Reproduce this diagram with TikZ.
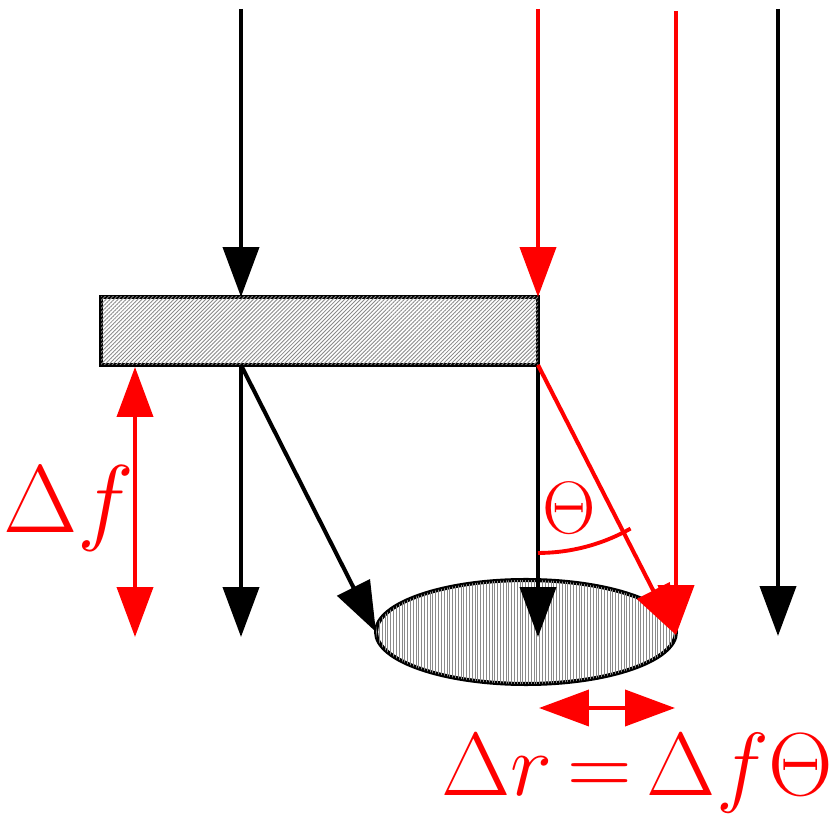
\documentclass[tikz,border=0pt]{standalone}
\usepackage{graphicx}
\usetikzlibrary{arrows.meta,patterns.meta}
\definecolor{beamred}{HTML}{FF0000}
\definecolor{hatchgrey}{HTML}{8A8A8A}
\newcommand{\biglabel}[2][2.05]{\scalebox{#1}{\Huge$#2$}}
\tikzset{
  lightray/.style={-{Triangle[length=1cm,width=0.72cm]}, line width=2.3pt, draw=#1},
  lightray/.default=black,
  span/.style={{Triangle[length=1cm,width=0.72cm]}-{Triangle[length=1cm,width=0.72cm]},
               line width=2.2pt, draw=beamred},
  lens/.style={draw=black, line width=2.3pt, fill=white,
               postaction={pattern={Lines[angle=45,distance=1.6pt,line width=0.5pt]}, pattern color=hatchgrey}},
  spotfill/.style={draw=black, line width=2.3pt, fill=white,
               postaction={pattern={Lines[angle=90,distance=1.6pt,line width=0.5pt]}, pattern color=hatchgrey}},
  lbl/.style={text=beamred, inner sep=0pt},
}
\begin{document}
\begin{tikzpicture}[x=0.02cm, y=0.02cm]
  \useasboundingbox (0,0) rectangle (836,819);

  % lens plate and focal spot
  \coordinate (lensSW) at (101,454);
  \coordinate (lensNE) at (538,522);
  \filldraw[lens] (lensSW) rectangle (lensNE);
  \coordinate (spot) at (526,187);
  \filldraw[spotfill] (spot) ellipse [x radius=3cm, y radius=1.04cm];
  \coordinate (spotW) at (376,187);

  % incoming rays
  \coordinate (inA) at (241,810);
  \coordinate (inB) at (538,810);
  \coordinate (inC) at (676,808);
  \coordinate (inD) at (778,810);
  \coordinate (hitA) at (241,522);
  \coordinate (hitB) at (538,522);
  \coordinate (exitA) at (241,454);
  \coordinate (exitB) at (538,454);
  \coordinate (endA) at (241,182);
  \coordinate (endB) at (538,182);
  \coordinate (endC) at (676,184);
  \coordinate (endD) at (778,183);

  \draw[lightray] (inA) -- (hitA);
  \draw[lightray=beamred] (inB) -- (hitB);
  \draw[lightray=beamred] (inC) -- (endC);
  \draw[lightray] (inD) -- (endD);

  % outgoing rays
  \draw[lightray] (exitA) -- (endA);
  \draw[lightray] (exitA) -- (spotW);
  \draw[lightray] (exitB) -- (endB);
  \draw[lightray=beamred] (exitB) -- (endC);

  % angle
  \draw[beamred, line width=2.2pt] ([shift={(-90:3.76cm)}]exitB)
    arc[start angle=-90, end angle=-60.5, radius=3.76cm];
  \node[lbl, anchor=base west] (theta) at (542,285) {\biglabel[1.7]{\Theta}};

  % focal shift
  \coordinate (fTop) at (135,452);
  \coordinate (fBot) at (135,182);
  \draw[span] (fTop) -- (fBot);
  \node[lbl, anchor=base west] (df) at (3,286) {\biglabel[2.2]{\Delta f}};

  % spot radius
  \coordinate (rL) at (539,111);
  \coordinate (rR) at (675,111);
  \draw[span] (rL) -- (rR);
  \node[lbl, anchor=base west] (dr) at (441,24)
    {\biglabel{\Delta r\mathrel{\mkern-2mu=\mkern-2mu}\Delta f\Theta}};
\end{tikzpicture}
\end{document}
